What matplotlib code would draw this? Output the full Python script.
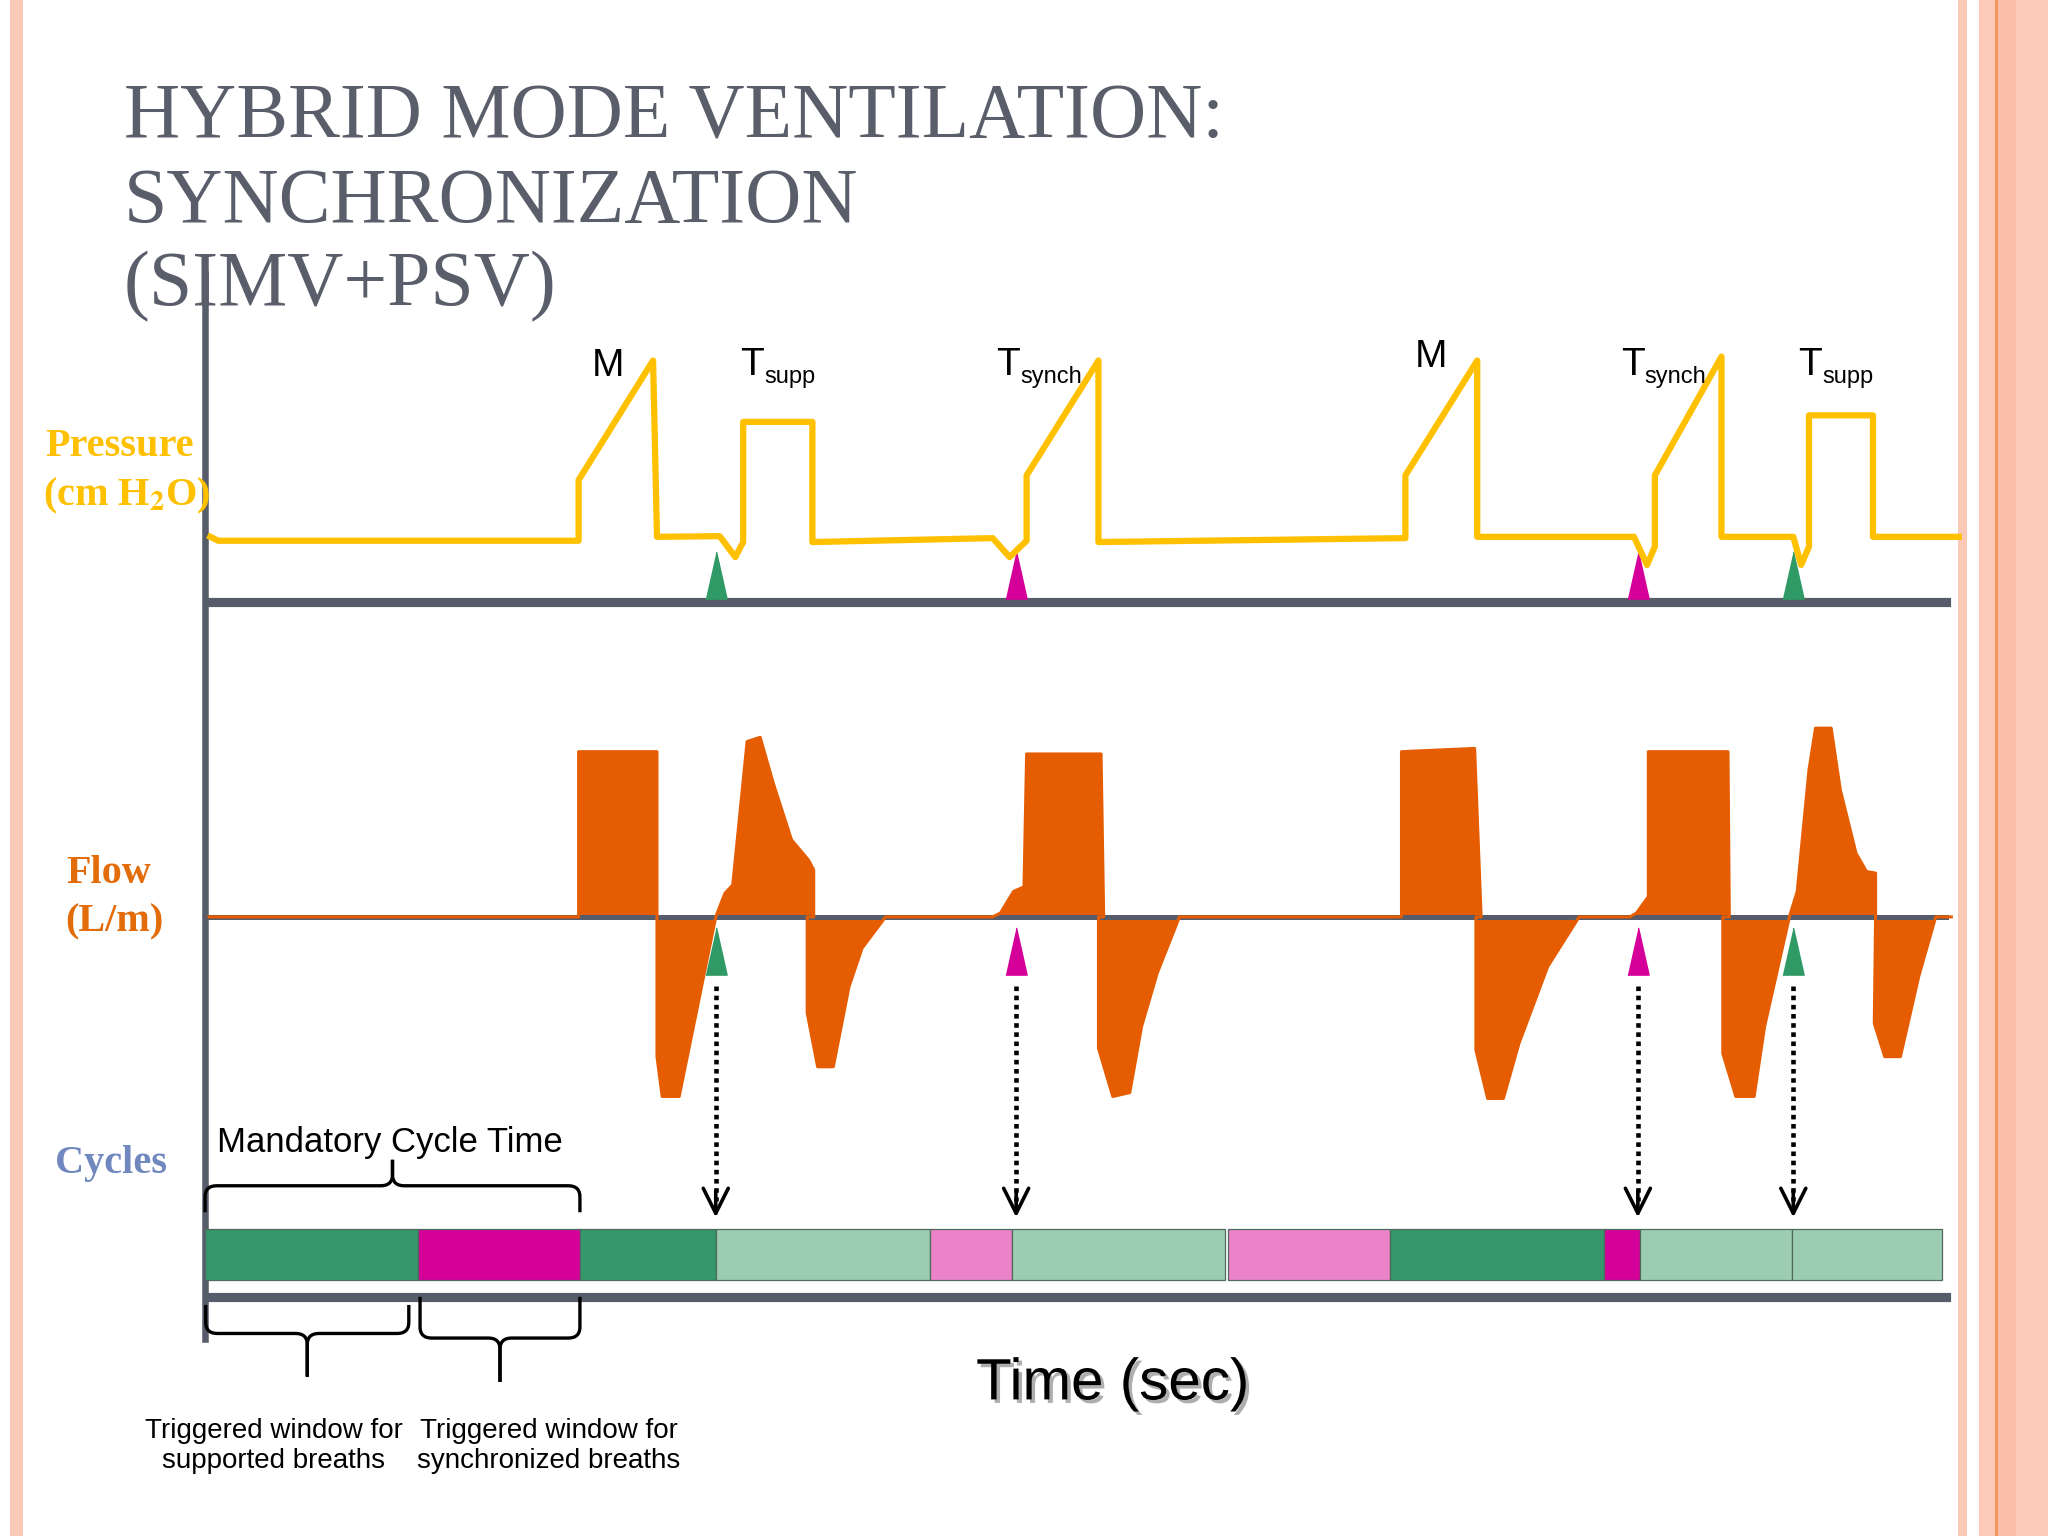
import matplotlib
matplotlib.use("Agg")
import matplotlib.pyplot as plt
import matplotlib.patheffects as pe
from matplotlib.patches import Rectangle
import numpy as np

# ---------------- data (time in s) ----------------
# pressure trace, cm H2O
pres_t = [0.04, 0.10, 2.86, 2.86, 3.43, 3.46, 3.94, 4.06, 4.12, 4.12, 4.65, 4.65,
          6.03, 6.16, 6.29, 6.29, 6.84, 6.84, 9.19, 9.19, 9.74, 9.74, 10.94, 11.04,
          11.10, 11.10, 11.61, 11.61, 12.16, 12.22, 12.28, 12.28, 12.77, 12.77, 13.44]
pres_v = [5.0, 4.7, 4.7, 9.35, 18.5, 5.0, 5.05, 3.45, 4.6, 13.8, 13.8, 4.6,
          4.9, 3.45, 4.7, 9.7, 18.5, 4.6, 4.9, 9.7, 18.5, 5.0, 5.0, 2.85,
          4.25, 9.7, 18.8, 5.0, 5.0, 2.85, 4.25, 14.3, 14.3, 5.0, 5.0]

# flow trace, L/min
flow_t = [0.03, 2.86, 2.86, 3.46, 3.46, 3.50, 3.63, 3.91,
          3.98, 4.04, 4.15, 4.25, 4.35, 4.49, 4.62, 4.66, 4.66, 4.61, 4.61, 4.69, 4.81, 4.93, 5.03, 5.21,
          6.03, 6.09, 6.19, 6.27, 6.29, 6.86, 6.88, 6.84, 6.84, 6.95, 7.08, 7.17, 7.29, 7.46,
          9.16, 9.16, 9.72, 9.77, 9.73, 9.73, 9.82, 9.94, 10.06, 10.28, 10.52,
          10.91, 10.96, 11.05, 11.05, 11.66, 11.67, 11.62, 11.62, 11.72, 11.86, 11.94, 12.13,
          12.19, 12.28, 12.33, 12.45, 12.52, 12.64, 12.72, 12.79, 12.79, 12.78, 12.86, 12.98,
          13.12, 13.25, 13.37]
flow_v = [0, 0, 50.6, 50.6, -42.8, -55, -55, 0,
          7.2, 9.8, 53.7, 55, 41, 23.6, 17.4, 14.4, 0, 0, -29.4, -45.9, -45.9, -21.4, -9.6, 0,
          0, 1.2, 7.8, 9.2, 49.9, 49.9, 0, 0, -40.2, -55, -53.8, -33.6, -17.2, 0,
          0, 50.6, 51.6, 0, 0, -40.8, -55.6, -55.6, -38.7, -15.2, 0,
          0, 1.2, 6.2, 50.6, 50.6, 0, 0, -41.8, -55, -55, -33.6, 0,
          7.8, 45, 57.8, 57.8, 38.9, 19.5, 13.9, 13.4, 0, -32.6, -42.8, -42.8,
          -18.3, 0, 0]

# patient triggers
trig_t = [3.91, 6.21, 10.97, 12.16]
trig_kind = ["supp", "synch", "synch", "supp"]

# breath labels above the pressure trace
lab_main = ["M", "T", "T", "M", "T", "T"]
lab_sub = ["", "supp", "synch", "", "synch", "supp"]
lab_t = [2.96, 4.10, 6.06, 9.26, 10.84, 12.20]
lab_p = [17.3, 17.4, 17.4, 18.0, 17.4, 17.4]

# cycle windows
seg_start = [0.00, 1.63, 2.87, 3.91, 5.55, 6.18, 7.83, 9.07, 10.71, 10.99, 12.15]
seg_end = [1.63, 2.87, 3.91, 5.55, 6.18, 7.81, 9.07, 10.71, 10.99, 12.15, 13.30]
seg_kind = ["supp", "synch", "supp", "supp_done", "synch_done", "supp_done",
            "synch_done", "supp", "synch", "supp_done", "supp_done"]

kind_color = {"supp": "#35986A", "synch": "#D5009A",
              "supp_done": "#9CCDB3", "synch_done": "#EC83C9"}

GRAY = "#575C6B"
GOLD = "#FFC000"
ORANGE = "#E65C00"

W, H = 1568.0, 1176.0
L, R = 157 / W, 1502 / W
TMAX = 13.45


def box(top, bottom):
    return [L, 1 - bottom / H, R - L, (bottom - top) / H]


def clean(ax):
    ax.set_xlim(0, TMAX)
    ax.axis("off")
    ax.patch.set_alpha(0)


def qbez(p0, p1, p2, n=10):
    t = np.linspace(0, 1, n)[:, None]
    return (1 - t) ** 2 * np.array(p0) + 2 * (1 - t) * t * np.array(p1) + t ** 2 * np.array(p2)


def brace(ax, x0, x1, y_arm, y_bar, y_tip, rx=0.09, ry=0.22):
    s = 1 if y_tip > y_bar else -1
    xc = (x0 + x1) / 2
    for a, d in ((x0, 1), (x1, -1)):
        pts = [np.array([[a, y_arm]]),
               qbez((a, y_bar - s * ry), (a, y_bar), (a + d * rx, y_bar)),
               qbez((xc - d * rx, y_bar), (xc, y_bar), (xc, y_bar + s * ry)),
               np.array([[xc, y_tip]])]
        pts = np.vstack(pts)
        ax.plot(pts[:, 0], pts[:, 1], color="black", lw=2.4, clip_on=False,
                solid_capstyle="butt")


fig = plt.figure(figsize=(20.48, 15.36), dpi=100)
fig.patch.set_facecolor("white")

# slide borders
for x0, x1, c in [(10, 23, "#FAC8B6"), (1958, 1967, "#FAC8B6"), (1979, 2048, "#FCCAB7"),
                  (1997, 2016, "#F9BFA8"), (1995, 1998, "#F2975F")]:
    fig.add_artist(Rectangle((x0 / 2048, 0), (x1 - x0) / 2048, 1,
                             transform=fig.transFigure, color=c, lw=0, zorder=0))

# title
title_lines = ["HYBRID MODE VENTILATION:", "SYNCHRONIZATION", "(SIMV+PSV)"]
for line, yb in zip(title_lines, [105, 170, 234]):
    fig.text(95 / W, 1 - yb / H, line, family="Liberation Serif", fontsize=56,
             color="#5A5E6B", va="baseline", ha="left")

# vertical time axis
ax_frame = fig.add_axes(box(210, 1025))
ax_frame.set_xlim(0, TMAX)
ax_frame.patch.set_alpha(0)
ax_frame.set_xticks([])
ax_frame.set_yticks([])
for k in ["top", "right", "bottom"]:
    ax_frame.spines[k].set_visible(False)
ax_frame.spines["left"].set_color(GRAY)
ax_frame.spines["left"].set_linewidth(4.7)

tri = [(-0.45, -1), (0.45, -1), (0, 1)]
tri_color = {"supp": "#2F9A66", "synch": "#D5009A"}

# ---- pressure ----
ax_p = fig.add_axes(box(240, 470))
clean(ax_p)
ax_p.set_ylim(-0.9, 22.1)
ax_p.axhline(0, xmin=0, xmax=(1490 - 157) / 1345, color=GRAY, lw=6.6)
for t, k in zip(trig_t, trig_kind):
    ax_p.plot([t], [2.1], marker=tri, markersize=34, color=tri_color[k], ls="none")
ax_p.plot(pres_t, pres_v, color=GOLD, lw=4.5, solid_joinstyle="round")
for m, s, t, p in zip(lab_main, lab_sub, lab_t, lab_p):
    ax_p.text(t, p, m, family="Liberation Sans", fontsize=28, ha="left",
              va="baseline", clip_on=False)
    if s:
        ax_p.text(t + 0.18, p - 0.65, s, family="Liberation Sans", fontsize=17,
                  ha="left", va="baseline", clip_on=False)

# ---- flow ----
ax_f = fig.add_axes(box(540, 860))
clean(ax_f)
ax_f.set_zorder(1)
ax_f.set_ylim(-63.2, 64.8)
ax_f.axhline(0, xmin=(160 - 157) / 1345, xmax=(1490 - 157) / 1345, color=GRAY, lw=3.6)
ax_f.fill(flow_t, flow_v, color=ORANGE, lw=0)
ax_f.plot(flow_t, flow_v, color=ORANGE, lw=2.2)
for t, k in zip(trig_t, trig_kind):
    ax_f.plot([t], [-10.4], marker=tri, markersize=34, color=tri_color[k], ls="none")

# ---- cycles ----
ax_c = fig.add_axes(box(740, 1000))
clean(ax_c)
ax_c.set_zorder(2)
ax_c.set_ylim(-0.513, 6.154)
ax_c.axhline(-0.333, xmin=0, xmax=(1490 - 157) / 1345, color=GRAY, lw=6.6)
ax_c.barh(0.5, [e - s for s, e in zip(seg_start, seg_end)], left=seg_start, height=1.0,
          color=[kind_color[k] for k in seg_kind], edgecolor="#4E6A5C", linewidth=0.9)
for t in trig_t:
    ax_c.plot([t, t], [5.77, 1.55], color="black", lw=3.3, ls=(0, (1, 1)),
              clip_on=False, dash_capstyle="butt")
    ax_c.annotate("", xy=(t, 1.23), xytext=(t, 1.75), annotation_clip=False,
                  arrowprops=dict(arrowstyle="->,head_length=0.9,head_width=0.45",
                                  lw=2.6, color="black", shrinkA=0, shrinkB=0,
                                  mutation_scale=20))

# braces around the mandatory cycle and its trigger windows
brace(ax_c, seg_start[0], seg_end[1], 1.33, 1.85, 2.36)
brace(ax_c, seg_start[0] + 0.005, seg_end[0] - 0.07, -0.49, -1.05, -1.90)
brace(ax_c, seg_start[1] + 0.016, seg_end[1], -0.33, -1.14, -2.0)

ax_c.text(0.09, 2.69, "Mandatory Cycle Time", family="Liberation Sans", fontsize=25,
          ha="left", va="center", clip_on=False)
ax_c.text(0.525, -3.25, "Triggered window for\nsupported breaths", family="Liberation Sans",
          fontsize=20, ha="center", va="center", linespacing=1.2, clip_on=False)
ax_c.text(2.63, -3.25, "Triggered window for\nsynchronized breaths", family="Liberation Sans",
          fontsize=20, ha="center", va="center", linespacing=1.2, clip_on=False)
ax_c.text(6.95, -2.05, "Time (sec)", family="Liberation Sans", fontsize=42,
          ha="center", va="center", clip_on=False,
          path_effects=[pe.SimplePatchShadow(offset=(2.5, -2.5), shadow_rgbFace="#9A9A9A",
                                             alpha=0.8), pe.Normal()])

# panel labels
plt.rcParams["mathtext.fontset"] = "stix"
lab_kw = dict(family="Liberation Serif", fontweight="bold", fontsize=29, ha="left", va="center")
fig.text(35 / W, 1 - 342 / H, "Pressure", color=GOLD, **lab_kw)
fig.text(33 / W, 1 - 380 / H, r"(cm H$_{\mathbf{2}}$O)", color=GOLD, **lab_kw)
fig.text(51 / W, 1 - 669 / H, "Flow", color="#E36C0A", **lab_kw)
fig.text(50 / W, 1 - 706 / H, "(L/m)", color="#E36C0A", **lab_kw)
fig.text(42 / W, 1 - 891 / H, "Cycles", color="#7088BE", **lab_kw)

fig.savefig("out.png", dpi=100)
